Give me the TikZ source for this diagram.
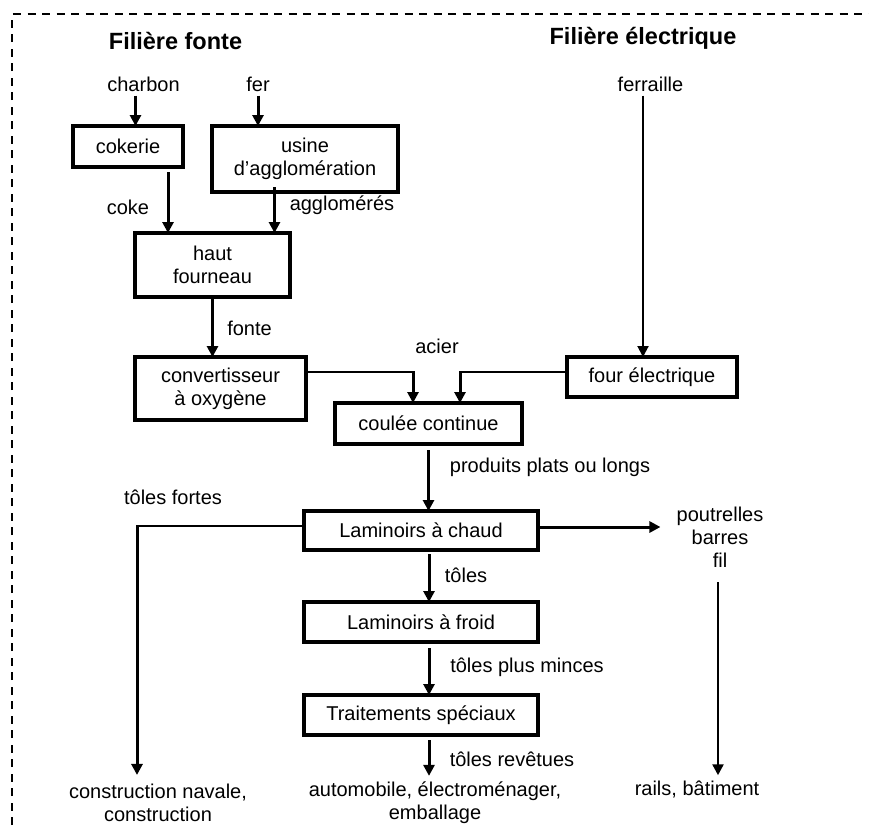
\documentclass[tikz,border=0pt]{standalone}
\usepackage{fontspec}
\setmainfont{Liberation Sans}
\usetikzlibrary{arrows.meta}

\begin{document}
\begin{tikzpicture}[x=1pt, y=-1pt,
		every node/.style = {font=\fontsize{20}{23}\selectfont, align=center, inner sep=0pt},
		etape/.style = {draw, line width=3.4pt, outer sep=0pt},
		titre/.style = {font=\fontsize{23.5}{27}\selectfont\bfseries},
		fleche/.style = {line width=3pt, -{Triangle[width=11pt,length=11pt]}},
		fleche fine/.style = {line width=2pt, -{Triangle[width=11pt,length=11pt]}},
		trait/.style = {line width=1.6pt}]
		\useasboundingbox (0,0) rectangle (869,825);
		
		\draw[line width=2.2pt, dash pattern=on 8pt off 6.5pt] (12,825) -- (12,14) -- (869,14);
		
		\node[titre] (titrefonte) at (175.5,41) {Filière fonte};
		\node[titre] (titreelec) at (643,38) {Filière électrique};
		
		\node (charbon) at (143.5,84) {charbon};
		\node (fer) at (258,84) {fer};
		\node (ferraille) at (650.5,84) {ferraille};
		
		\node[etape, minimum width=110pt, minimum height=41pt] (cokerie) at (128,146.5) {cokerie};
		\node[etape, minimum width=186pt, minimum height=66pt] (usine) at (305,159) {usine\\d’agglomération};
		\node[etape, minimum width=155pt, minimum height=64pt] (haut) at (212.5,265) {haut\\fourneau};
		\node[etape, minimum width=171pt, minimum height=63pt] (conv) at (220.5,388.5) {convertisseur\\à oxygène};
		\node[etape, minimum width=187pt, minimum height=41pt] (coulee) at (428.5,423.5) {coulée continue};
		\node[etape, minimum width=170pt, minimum height=40pt] (four) at (652,377) {four électrique};
		\node[etape, minimum width=234pt, minimum height=39pt] (lamchaud) at (421,530.5) {Laminoirs à chaud};
		\node[etape, minimum width=234pt, minimum height=40pt] (lamfroid) at (421,622) {Laminoirs à froid};
		\node[etape, minimum width=234pt, minimum height=40pt] (traitements) at (421,715) {Traitements spéciaux};
		
		\node (coke) at (128,207) {coke};
		\node (agglo) at (342,205) {agglomérés};
		\node (fonte) at (249.5,328) {fonte};
		\node (acier) at (437,346) {acier};
		\node (produits) at (550,467) {produits plats ou longs};
		\node (tolesfortes) at (173,497) {tôles fortes};
		\node (poutrelles) at (720,537) {poutrelles\\barres\\fil};
		\node (toles) at (466,575) {tôles};
		\node (minces) at (527,667) {tôles plus minces};
		\node (revetues) at (512,759) {tôles revêtues};
		\node (construction) at (158,803) {construction navale,\\construction};
		\node (automobile) at (435,803) {automobile, électroménager,\\emballage};
		\node (rails) at (697,789) {rails, bâtiment};
		
		\draw[fleche] ([xshift=-8pt, yshift=-4pt]charbon.south) -- ([xshift=7.5pt]cokerie.north);
		\draw[fleche] ([yshift=-4pt]fer.south) -- ([xshift=-47pt]usine.north);
		\draw[fleche] ([xshift=40pt, yshift=-5pt]cokerie.south) -- ([xshift=-44.5pt]haut.north);
		\draw[fleche] ([xshift=-30.5pt, yshift=5pt]usine.south) -- ([xshift=62pt]haut.north);
		\draw[fleche] (haut.south) -- (haut.south |- conv.north);
		
		\draw[trait] ([yshift=16.5pt]conv.east) -- ++(107,0) coordinate (coinacier);
		\draw[fleche] ([yshift=0.8pt]coinacier) -- (coinacier |- coulee.north);
		\draw[fleche fine] ([xshift=-7.5pt, yshift=-4pt]ferraille.south) -- ([xshift=-9pt]four.north);
		\draw[trait] ([yshift=5pt]four.west) -- ++(-107,0) coordinate (coinfour);
		\draw[fleche] ([yshift=0.8pt]coinfour) -- (coinfour |- coulee.north);
		
		\draw[fleche] ([yshift=-6pt]coulee.south) -- (coulee.south |- lamchaud.north);
		\draw[trait] ([yshift=4.5pt]lamchaud.west) -- ++(-167,0) coordinate (coinfortes);
		\draw[fleche] ([yshift=0.8pt]coinfortes) -- ([yshift=9pt]coinfortes |- construction.north);
		\draw[fleche] ([yshift=3.5pt]lamchaud.east) -- ([xshift=-16pt, yshift=10pt]poutrelles.west);
		\draw[fleche fine, line width=2.4pt] ([xshift=-2pt, yshift=-15pt]poutrelles.south) -- ([xshift=21pt, yshift=5pt]rails.north);
		
		\draw[fleche] ([xshift=8pt, yshift=-4pt]lamchaud.south) -- ([xshift=8pt]lamfroid.north);
		\draw[fleche] ([xshift=8pt, yshift=-6pt]lamfroid.south) -- ([xshift=8pt]traitements.north);
		\draw[fleche] ([xshift=8pt, yshift=-5pt]traitements.south) -- ([xshift=-6pt, yshift=6pt]automobile.north);
\end{tikzpicture}
\end{document}
